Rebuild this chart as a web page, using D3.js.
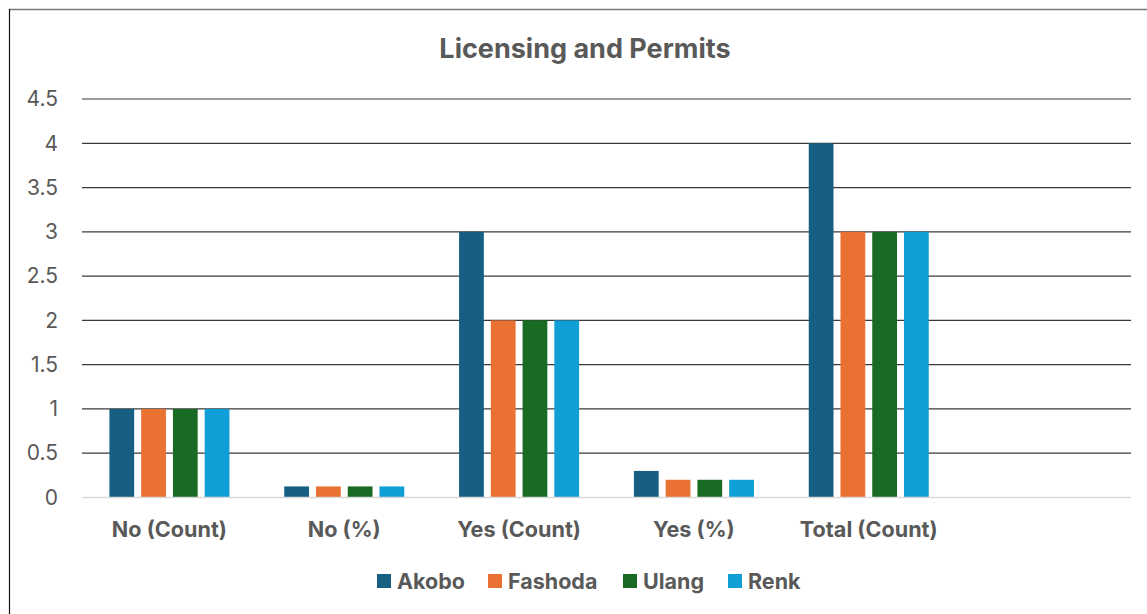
<!DOCTYPE html>
<html lang="en">
<head>
<meta charset="UTF-8">
<title>Licensing and Permits</title>
<script src="https://d3js.org/d3.v7.min.js"></script>
<style>
  body { margin: 0; background: #fff; }
  text { font-family: Inter, "Open Sans", sans-serif; fill: #595959; }
</style>
</head>
<body>
<div id="chart"></div>
<script>
// data
const categories = ["No (Count)", "No (%)", "Yes (Count)", "Yes (%)", "Total (Count)", ""];
const seriesNames = ["Akobo", "Fashoda", "Ulang", "Renk"];
const akobo   = [1, 0.125, 3, 0.3, 4];
const fashoda = [1, 0.125, 2, 0.2, 3];
const ulang   = [1, 0.125, 2, 0.2, 3];
const renk    = [1, 0.125, 2, 0.2, 3];
const colors = ["#175F82", "#E97132", "#196B24", "#0F9ED5"];
const yTicks = [0, 0.5, 1, 1.5, 2, 2.5, 3, 3.5, 4, 4.5];

const seriesValues = [akobo, fashoda, ulang, renk];

const W = 1147, H = 614;
const margin = {top: 99, right: 16, bottom: 116.5, left: 82};
const width = W - margin.left - margin.right,
      height = H - margin.top - margin.bottom;

const svg = d3.select("#chart").append("svg")
    .attr("width", W).attr("height", H);

// outer frame (top and left edges visible)
svg.append("line").attr("x1", 9).attr("x2", W).attr("y1", 9.5).attr("y2", 9.5)
    .attr("stroke", "#777").attr("stroke-width", 1.5);
svg.append("line").attr("x1", 9.5).attr("x2", 9.5).attr("y1", 9).attr("y2", H)
    .attr("stroke", "#111").attr("stroke-width", 1.2);

svg.append("text")
    .attr("x", 585).attr("y", 57.5)
    .attr("text-anchor", "middle")
    .attr("font-size", 27).attr("font-weight", 700)
    .text("Licensing and Permits");

const g = svg.append("g").attr("transform", `translate(${margin.left},${margin.top})`);

const x0 = d3.scaleBand().domain(categories).range([0, width]).padding(0);
const x1 = d3.scaleBand().domain(seriesNames)
    .range([x0.bandwidth() / 2 - 63.5, x0.bandwidth() / 2 + 63.5])
    .paddingInner(0.22).paddingOuter(0.11);
const y = d3.scaleLinear().domain([0, 4.5]).range([height, 0]);

// gridlines
g.append("g")
    .selectAll("line")
    .data(yTicks.filter(d => d > 0))
    .join("line")
    .attr("x1", 0).attr("x2", width)
    .attr("y1", d => y(d)).attr("y2", d => y(d))
    .attr("stroke", "#3a3a3a").attr("stroke-width", 1.2);

// y axis labels
const yAxis = g.append("g")
    .call(d3.axisLeft(y).tickValues(yTicks).tickSize(0).tickPadding(24).tickFormat(d3.format("~g")));
yAxis.select(".domain").remove();
yAxis.selectAll("text").attr("font-size", 21).attr("fill", "#595959")
    .style("font-family", "Inter, 'Open Sans', sans-serif");

// bars
const groups = g.append("g").selectAll("g")
    .data(categories.filter(c => c !== ""))
    .join("g")
    .attr("transform", d => `translate(${x0(d)},0)`);

groups.selectAll("rect")
    .data((c, i) => seriesNames.map((s, j) => ({s, v: seriesValues[j][i], j})))
    .join("rect")
    .attr("x", d => x1(d.s))
    .attr("width", x1.bandwidth())
    .attr("y", d => y(d.v))
    .attr("height", d => y(0) - y(d.v))
    .attr("fill", d => colors[d.j]);

// baseline
g.append("line").attr("x1", 0).attr("x2", width)
    .attr("y1", y(0)).attr("y2", y(0))
    .attr("stroke", "#d9d9d9").attr("stroke-width", 1.5);

// x axis labels
const xAxis = g.append("g").attr("transform", `translate(0,${height})`)
    .call(d3.axisBottom(x0).tickSize(0).tickPadding(24));
xAxis.select(".domain").remove();
xAxis.selectAll("text").attr("font-size", 21.6).attr("font-weight", 700).attr("fill", "#595959")
    .style("font-family", "Inter, 'Open Sans', sans-serif");

// legend
const legendX = [377, 488, 623, 728];
const legend = svg.append("g").selectAll("g")
    .data(seriesNames)
    .join("g")
    .attr("transform", (d, i) => `translate(${legendX[i]},574)`);
legend.append("rect").attr("width", 14).attr("height", 14)
    .attr("fill", (d, i) => colors[i]);
legend.append("text").attr("x", 20).attr("y", 15)
    .attr("font-size", 21.5).attr("font-weight", 700)
    .text(d => d);
</script>
</body>
</html>
